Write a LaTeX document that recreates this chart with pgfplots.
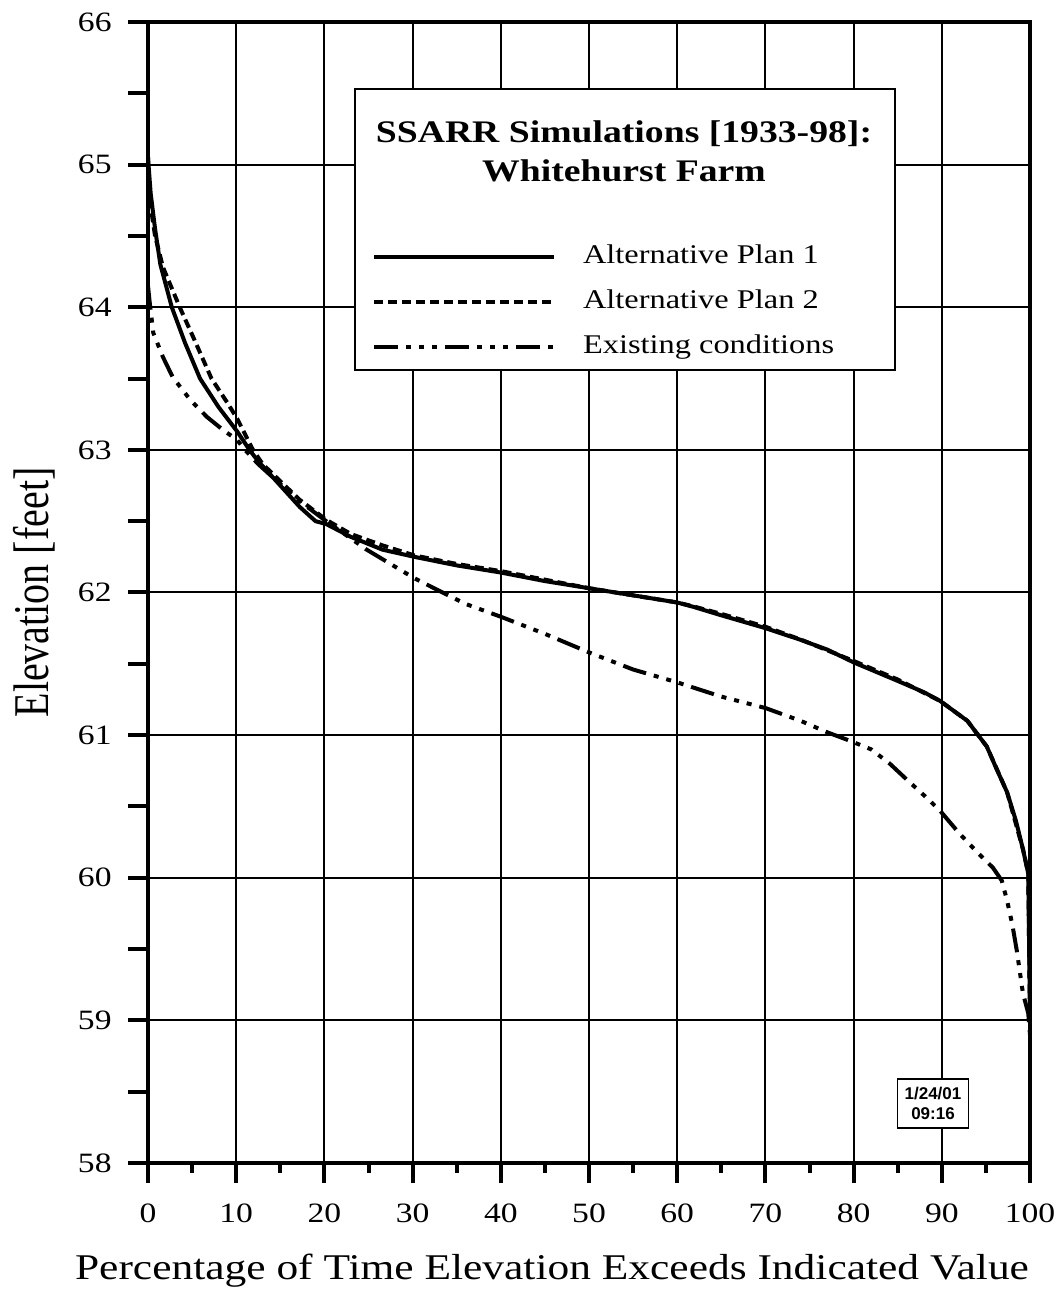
\documentclass[border=0pt]{standalone}
\usepackage{graphicx}
\usepackage{pgfplots}
\pgfplotsset{compat=1.18}
\usepackage{fontspec}
\setmainfont{Liberation Serif}[FakeStretch=1.2]
\newfontfamily\plainserif{Liberation Serif}
\newfontfamily\datefont{Liberation Sans}
\begin{document}
\begin{tikzpicture}
\useasboundingbox (-74pt,-63pt) rectangle (456pt,581.5pt);
\begin{axis}[
  scale only axis, width=441pt, height=570.5pt,
  xmin=0, xmax=100, ymin=58, ymax=66,
  xtick={0,10,...,100}, ytick={58,59,...,66},
  minor x tick num=1,
  extra y ticks={58.5,59.5,...,65.5}, extra y tick labels={},
  extra y tick style={grid=none},
  tick align=outside, tick pos=left,
  major tick length=10pt, minor tick length=5pt,
  every tick/.style={black, line width=2pt},
  grid=major, major grid style={black, line width=1pt},
  axis line style={line width=2.2pt},
  /pgf/number format/assume math mode=true,
  ticklabel style={font=\fontsize{14}{16}\selectfont},
  xticklabel style={anchor=north, inner sep=0pt, yshift=-10pt},
  yticklabel style={anchor=east, inner sep=0pt, xshift=-8pt},
  xlabel={Percentage of Time Elevation Exceeds Indicated Value},
  xlabel style={at={(axis description cs:0.458,-0.1025)}, anchor=base, font=\fontsize{18.1}{22}\selectfont},
  ylabel={\scalebox{1}[1.25]{\plainserif Elevation [feet]}},
  ylabel style={at={(axis description cs:-0.1293,0.5)}, anchor=center, font=\fontsize{20}{24}\selectfont},
  legend style={draw=none, fill=none, at={(axis description cs:0.254,0.8054)}, anchor=north west,
    inner sep=0pt, outer sep=0pt, row sep=10pt, font=\fontsize{13.5}{16}\selectfont,
    nodes={inner sep=0pt, text height=9.5pt, text depth=3pt},
    /tikz/every odd column/.append style={column sep=13.5pt}},
  legend cell align=left,
  legend image code/.code={\draw[#1] (0pt,0pt) -- (90pt,0pt);},
]
\addplot[black, line width=2pt] coordinates {
(0,65.05) (0.3,64.8) (0.8,64.55) (1.4,64.3) (2.7,64.0) (4.2,63.75) (5.9,63.5) (8,63.3) (10.1,63.13) (11.5,63.0) (12.5,62.92) (15,62.75) (17.2,62.6) (19,62.5) (20.2,62.48) (23,62.39) (26.6,62.3) (30.2,62.25) (35,62.19) (40,62.14) (45,62.08) (50,62.03) (55,61.98) (60,61.93) (61.8,61.9) (65,61.84) (70,61.75) (73.9,61.67) (77,61.6) (80,61.51) (85,61.38) (88,61.3) (89.8,61.24) (92.9,61.1) (95.1,60.92) (96.3,60.75) (97.4,60.6) (98.4,60.4) (99.2,60.2) (99.8,60.03) (100,59.0)};
\addlegendentry{Alternative Plan 1}
\addplot[black, line width=2pt, dash pattern=on 4.5pt off 2.5pt] coordinates {
(0,65.05) (0.2,64.75) (0.8,64.5) (1.7,64.28) (3.6,64.0) (5.2,63.78) (7.2,63.5) (9,63.33) (10.1,63.22) (11.9,63.0) (13,62.9) (15,62.78) (17.2,62.65) (20.2,62.51) (23,62.41) (26.6,62.33) (30.2,62.26) (35,62.2) (40,62.15) (45,62.09) (50,62.03) (55,61.98) (60,61.93) (62,61.9) (65,61.85) (70,61.76) (74,61.67) (80,61.52) (85,61.39) (89.8,61.24) (92.9,61.1) (95.1,60.92) (97.4,60.6) (99.2,60.2) (99.8,60.03) (100,59.0)};
\addlegendentry{Alternative Plan 2}
\addplot[black, line width=2pt, dash pattern=on 12pt off 4pt on 2.5pt off 4pt on 2.5pt off 4pt on 2.5pt off 4pt] coordinates {
(0,64.15) (0.2,64.03) (0.6,63.82) (1.7,63.65) (2.8,63.51) (4.8,63.35) (6.7,63.23) (8.5,63.14) (10.1,63.07) (11,63.0) (12.5,62.9) (15,62.76) (17.2,62.64) (20.2,62.5) (23.2,62.37) (24.8,62.3) (27.5,62.2) (30.2,62.1) (33.4,62.0) (36,61.92) (40,61.83) (45,61.71) (50,61.58) (55,61.46) (60,61.37) (65,61.27) (70,61.19) (74,61.1) (77,61.02) (79.6,60.96) (82,60.9) (84.1,60.8) (86,60.69) (88.3,60.56) (89.8,60.47) (92,60.31) (94,60.18) (95.8,60.07) (96.8,59.98) (97.4,59.84) (98,59.67) (98.5,59.49) (99.2,59.19) (99.8,59.05) (100,58.9)};
\addlegendentry{Existing conditions}
\draw[line width=1.2pt, fill=white] (axis description cs:0.2347,0.9413) rectangle (axis description cs:0.8469,0.695);
\node[anchor=base, font=\bfseries\fontsize{15.7}{19}\selectfont] at (axis description cs:0.5397,0.8948) {SSARR Simulations [1933-98]:};
\node[anchor=base, font=\bfseries\fontsize{15.7}{19}\selectfont] at (axis description cs:0.5397,0.8606) {Whitehurst Farm};
\node[draw, line width=0.9pt, fill=white, minimum width=35.5pt, minimum height=24.5pt, inner sep=0pt, align=center, font=\datefont\bfseries\fontsize{8.5}{10}\selectfont] at (axis cs:89,58.415) {1/24/01\\09:16};
\end{axis}
\end{tikzpicture}
\end{document}
